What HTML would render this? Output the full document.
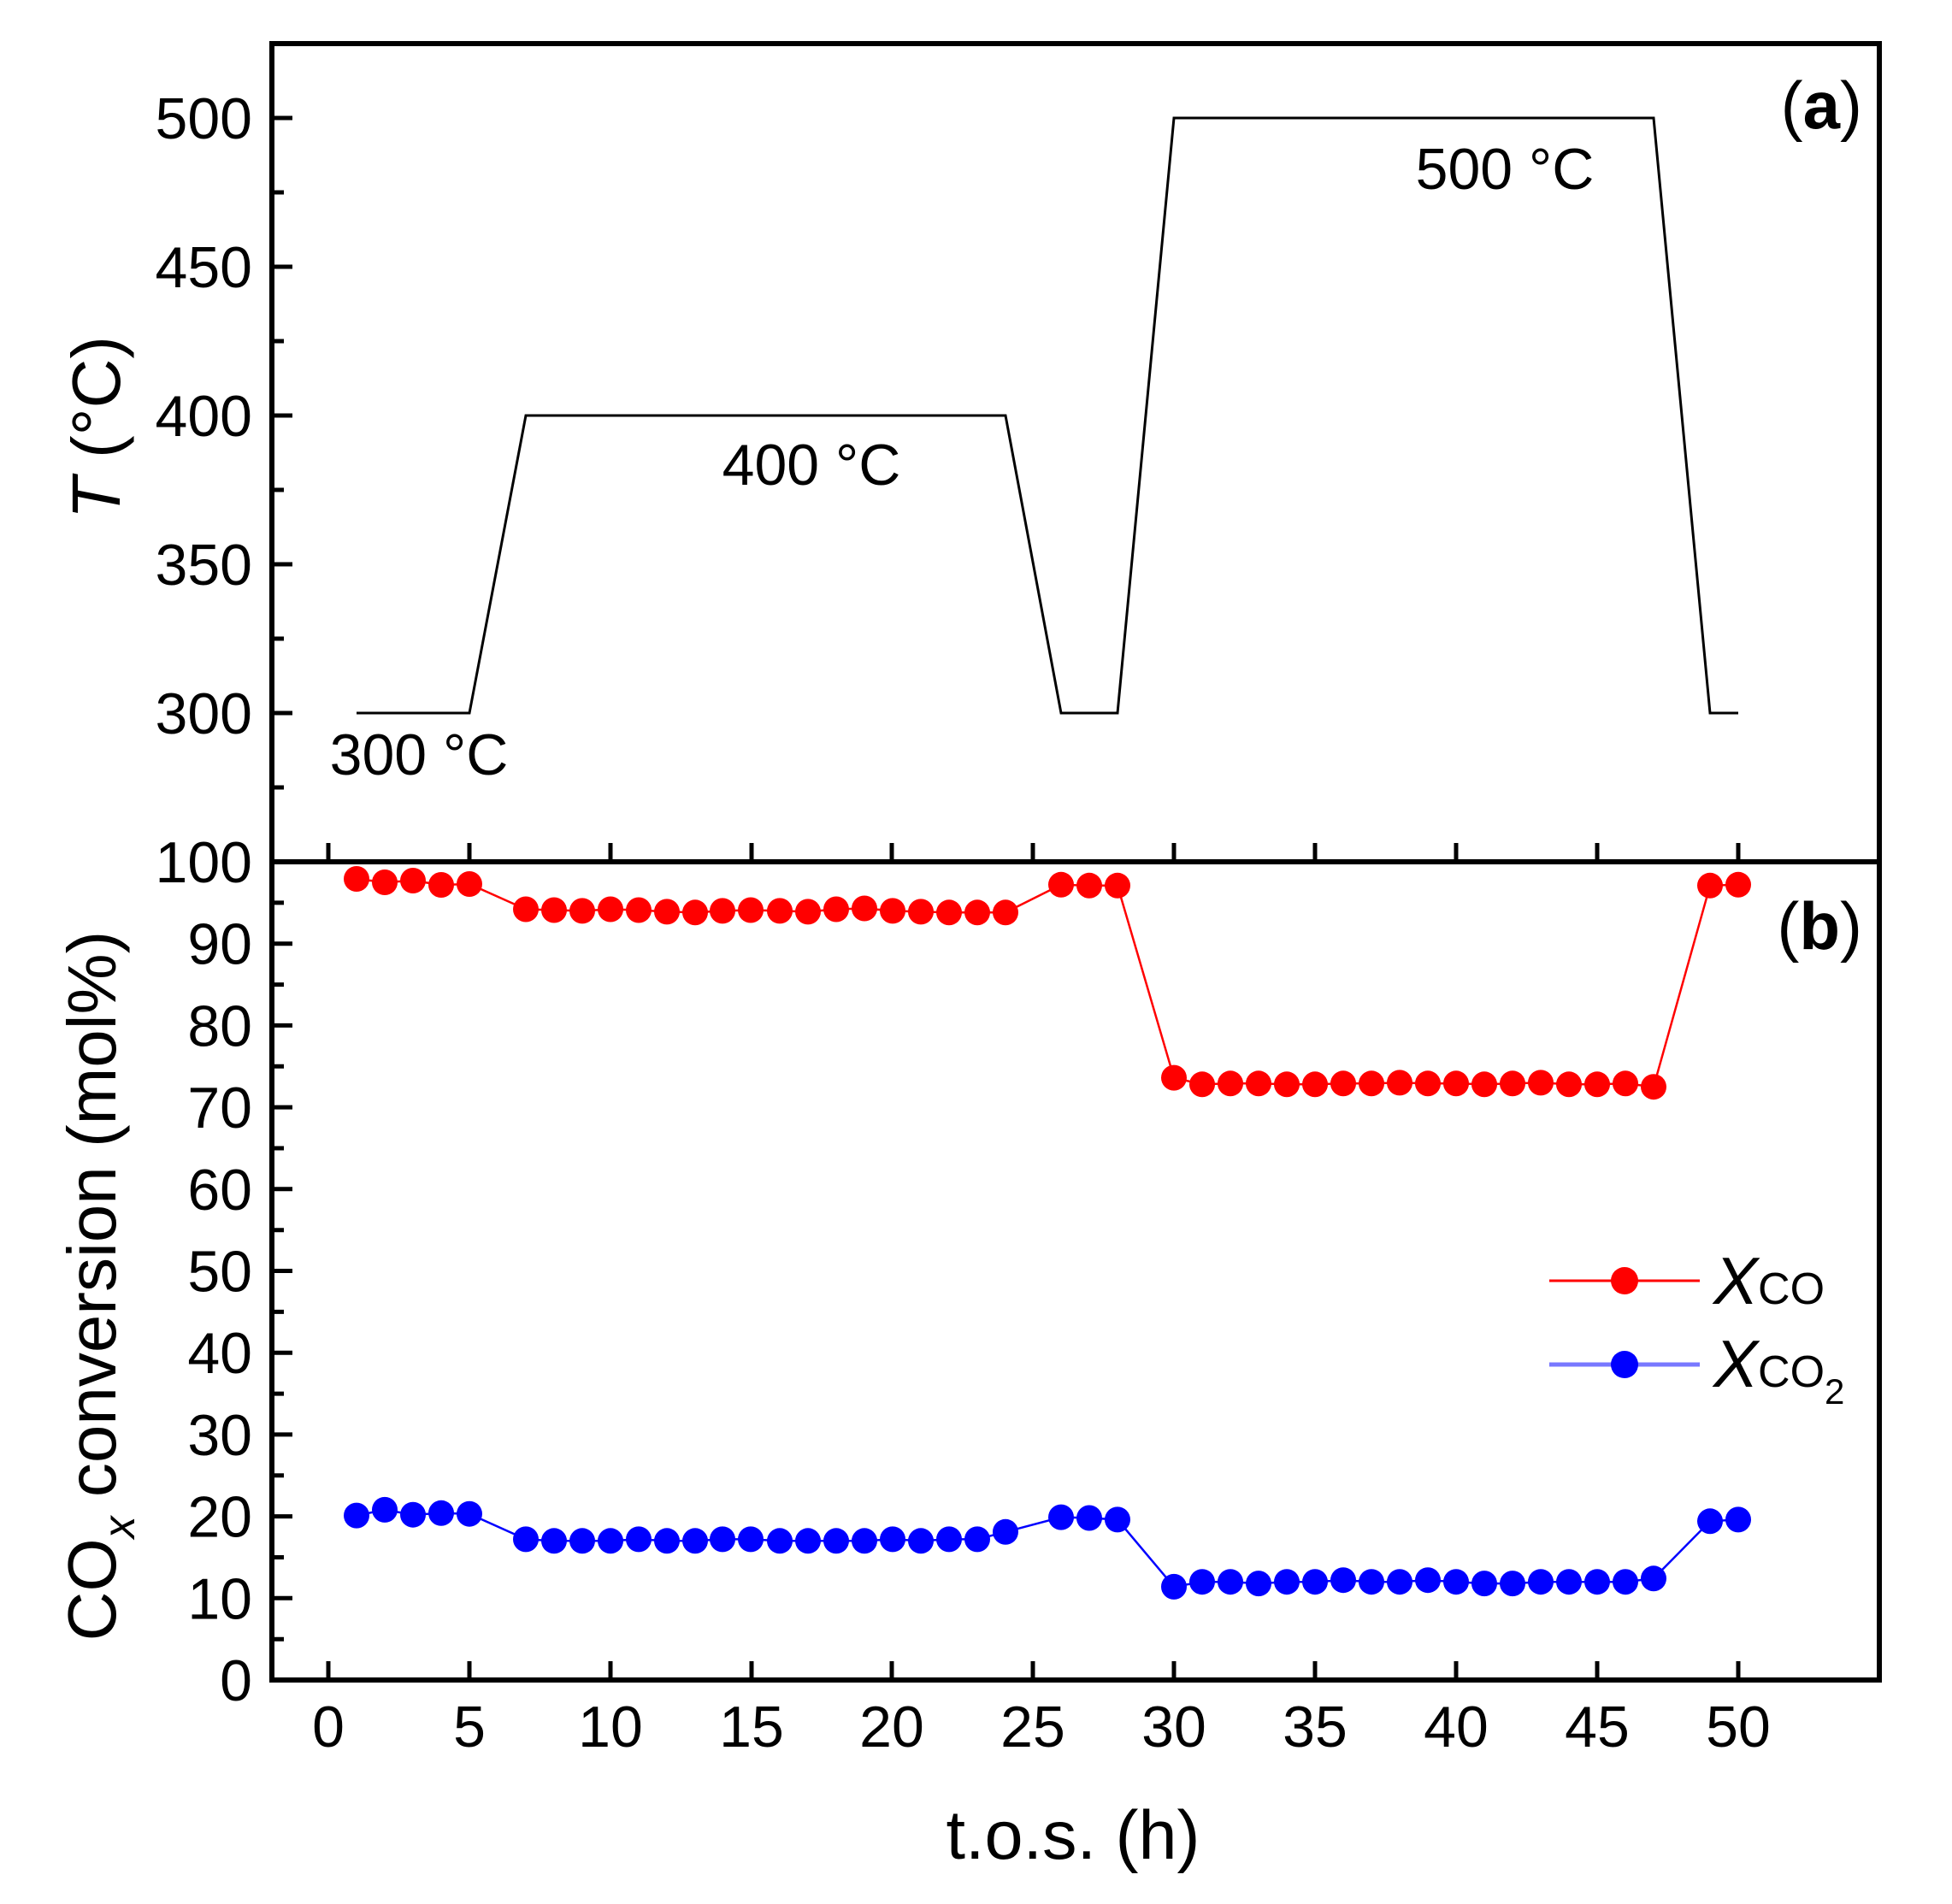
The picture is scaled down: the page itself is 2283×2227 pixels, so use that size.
<!DOCTYPE html>
<html><head><meta charset="utf-8"><style>html,body{margin:0;padding:0;background:#fff}svg{display:block}</style></head>
<body>
<svg width="2283" height="2227" viewBox="0 0 2283 2227" xmlns="http://www.w3.org/2000/svg" font-family="Liberation Sans, Arial, sans-serif">
<rect width="2283" height="2227" fill="#fff"/>
<!-- frame -->
<rect x="318" y="51" width="1880" height="1914" fill="none" stroke="#000" stroke-width="6"/>
<line x1="318" y1="1008" x2="2198" y2="1008" stroke="#000" stroke-width="6"/>
<g stroke="#000" stroke-width="5">
<!-- x ticks bottom and middle -->
<path d="M384 1965v-22M549 1965v-22M714 1965v-22M879 1965v-22M1043 1965v-22M1208 1965v-22M1373 1965v-22M1538 1965v-22M1703 1965v-22M1868 1965v-22M2033 1965v-22"/>
<path d="M384 1008v-22M549 1008v-22M714 1008v-22M879 1008v-22M1043 1008v-22M1208 1008v-22M1373 1008v-22M1538 1008v-22M1703 1008v-22M1868 1008v-22M2033 1008v-22"/>
<!-- bottom y ticks major -->
<path d="M318 1869.3h24M318 1773.6h24M318 1677.9h24M318 1582.2h24M318 1486.5h24M318 1390.8h24M318 1295.1h24M318 1199.4h24M318 1103.7h24"/>
<!-- bottom y minor -->
<path d="M318 1917.2h14M318 1821.5h14M318 1725.8h14M318 1630.1h14M318 1534.4h14M318 1438.7h14M318 1343h14M318 1247.3h14M318 1151.6h14M318 1055.9h14"/>
<!-- top y ticks major 300..500 -->
<path d="M318 834h24M318 660h24M318 486h24M318 312h24M318 138h24"/>
<path d="M318 921h14M318 747h14M318 573h14M318 399h14M318 225h14"/>
</g>
<!-- tick labels -->
<g font-size="68" fill="#000" text-anchor="end">
<text x="295" y="162">500</text>
<text x="295" y="336">450</text>
<text x="295" y="510">400</text>
<text x="295" y="684">350</text>
<text x="295" y="858">300</text>
<text x="295" y="1032">100</text>
<text x="295" y="1127.7">90</text>
<text x="295" y="1223.4">80</text>
<text x="295" y="1319.1">70</text>
<text x="295" y="1414.8">60</text>
<text x="295" y="1510.5">50</text>
<text x="295" y="1606.2">40</text>
<text x="295" y="1701.9">30</text>
<text x="295" y="1797.6">20</text>
<text x="295" y="1893.3">10</text>
<text x="295" y="1989">0</text>
</g>
<g font-size="68" fill="#000" text-anchor="middle">
<text x="384" y="2043">0</text><text x="549" y="2043">5</text><text x="714" y="2043">10</text><text x="879" y="2043">15</text><text x="1043" y="2043">20</text><text x="1208" y="2043">25</text><text x="1373" y="2043">30</text><text x="1538" y="2043">35</text><text x="1703" y="2043">40</text><text x="1868" y="2043">45</text><text x="2033" y="2043">50</text>
</g>
<!-- axis titles -->
<text x="1255" y="2174" font-size="81" text-anchor="middle">t.o.s. (h)</text>
<text transform="translate(140,500) rotate(-90)" font-size="80" text-anchor="middle"><tspan font-style="italic">T</tspan> (°C)</text>
<text transform="translate(135,1504) rotate(-90)" font-size="80" text-anchor="middle">CO<tspan font-size="52" dy="22" font-style="italic">x</tspan><tspan dy="-22"> conversion (mol%)</tspan></text>
<!-- panel labels -->
<text x="2178" y="150" font-size="78" text-anchor="end">(<tspan font-weight="bold">a</tspan>)</text>
<text x="2178" y="1110" font-size="78" text-anchor="end">(<tspan font-weight="bold">b</tspan>)</text>
<!-- temperature profile -->
<polyline points="417,834 549,834 615,486 1176,486 1241,834 1307,834 1373,138 1934,138 2000,834 2033,834" fill="none" stroke="#000" stroke-width="3"/>
<g font-size="68" text-anchor="middle">
<text x="490" y="906">300 °C</text>
<text x="949" y="567">400 °C</text>
<text x="1760" y="221">500 °C</text>
</g>
<!-- red series -->
<polyline fill="none" stroke="#f00" stroke-width="2.5" points="417,1028 450,1032 483,1030 516,1035 549,1034 615,1063.5 648,1064.5 681,1065.4 714,1063.5 747,1064.5 780,1066.4 813,1067.3 845,1065.4 878,1064.5 912,1065.4 945,1066.4 978,1063.5 1011,1062.5 1044,1065.4 1077,1066.4 1110,1067.3 1143,1067.3 1176,1067.3 1241,1034.8 1274,1035.8 1307,1035.8 1373,1260.6 1406,1268.3 1439,1267.3 1472,1267.3 1505,1268.3 1538,1268.3 1571,1267.3 1604,1267.3 1637,1266.4 1670,1267.3 1703,1267.3 1736,1268.3 1769,1267.3 1802,1266.4 1835,1268.3 1868,1268.3 1901,1267.3 1934,1271.2 2000,1035.8 2033,1034.8"/>
<g fill="#f00">
<circle cx="417" cy="1028" r="15"/><circle cx="450" cy="1032" r="15"/><circle cx="483" cy="1030" r="15"/><circle cx="516" cy="1035" r="15"/><circle cx="549" cy="1034" r="15"/>
<circle cx="615" cy="1063.5" r="15"/><circle cx="648" cy="1064.5" r="15"/><circle cx="681" cy="1065.4" r="15"/><circle cx="714" cy="1063.5" r="15"/><circle cx="747" cy="1064.5" r="15"/><circle cx="780" cy="1066.4" r="15"/><circle cx="813" cy="1067.3" r="15"/><circle cx="845" cy="1065.4" r="15"/><circle cx="878" cy="1064.5" r="15"/><circle cx="912" cy="1065.4" r="15"/><circle cx="945" cy="1066.4" r="15"/><circle cx="978" cy="1063.5" r="15"/><circle cx="1011" cy="1062.5" r="15"/><circle cx="1044" cy="1065.4" r="15"/><circle cx="1077" cy="1066.4" r="15"/><circle cx="1110" cy="1067.3" r="15"/><circle cx="1143" cy="1067.3" r="15"/><circle cx="1176" cy="1067.3" r="15"/>
<circle cx="1241" cy="1034.8" r="15"/><circle cx="1274" cy="1035.8" r="15"/><circle cx="1307" cy="1035.8" r="15"/>
<circle cx="1373" cy="1260.6" r="15"/><circle cx="1406" cy="1268.3" r="15"/><circle cx="1439" cy="1267.3" r="15"/><circle cx="1472" cy="1267.3" r="15"/><circle cx="1505" cy="1268.3" r="15"/><circle cx="1538" cy="1268.3" r="15"/><circle cx="1571" cy="1267.3" r="15"/><circle cx="1604" cy="1267.3" r="15"/><circle cx="1637" cy="1266.4" r="15"/><circle cx="1670" cy="1267.3" r="15"/><circle cx="1703" cy="1267.3" r="15"/><circle cx="1736" cy="1268.3" r="15"/><circle cx="1769" cy="1267.3" r="15"/><circle cx="1802" cy="1266.4" r="15"/><circle cx="1835" cy="1268.3" r="15"/><circle cx="1868" cy="1268.3" r="15"/><circle cx="1901" cy="1267.3" r="15"/><circle cx="1934" cy="1271.2" r="15"/>
<circle cx="2000" cy="1035.8" r="15"/><circle cx="2033" cy="1034.8" r="15"/>
</g>
<!-- blue series -->
<polyline fill="none" stroke="#00f" stroke-width="2.5" points="417,1772.6 450,1765.9 483,1771.7 516,1769.8 549,1770.7 615,1800.4 648,1802.3 681,1802.3 714,1802.3 747,1800.4 780,1802.3 813,1802.3 845,1800.4 878,1800.4 912,1802.3 945,1802.3 978,1802.3 1011,1802.3 1044,1800.4 1077,1802.3 1110,1800.4 1143,1800.4 1176,1791.8 1241,1774.6 1274,1775.5 1307,1777.4 1373,1855.9 1406,1850.2 1439,1850.2 1472,1852.1 1505,1850.2 1538,1850.2 1571,1848.2 1604,1850.2 1637,1850.2 1670,1848.2 1703,1850.2 1736,1852.1 1769,1852.1 1802,1850.2 1835,1850.2 1868,1850.2 1901,1850.2 1934,1846.3 2000,1779.3 2033,1777.4"/>
<g fill="#00f">
<circle cx="417" cy="1772.6" r="15"/><circle cx="450" cy="1765.9" r="15"/><circle cx="483" cy="1771.7" r="15"/><circle cx="516" cy="1769.8" r="15"/><circle cx="549" cy="1770.7" r="15"/>
<circle cx="615" cy="1800.4" r="15"/><circle cx="648" cy="1802.3" r="15"/><circle cx="681" cy="1802.3" r="15"/><circle cx="714" cy="1802.3" r="15"/><circle cx="747" cy="1800.4" r="15"/><circle cx="780" cy="1802.3" r="15"/><circle cx="813" cy="1802.3" r="15"/><circle cx="845" cy="1800.4" r="15"/><circle cx="878" cy="1800.4" r="15"/><circle cx="912" cy="1802.3" r="15"/><circle cx="945" cy="1802.3" r="15"/><circle cx="978" cy="1802.3" r="15"/><circle cx="1011" cy="1802.3" r="15"/><circle cx="1044" cy="1800.4" r="15"/><circle cx="1077" cy="1802.3" r="15"/><circle cx="1110" cy="1800.4" r="15"/><circle cx="1143" cy="1800.4" r="15"/><circle cx="1176" cy="1791.8" r="15"/>
<circle cx="1241" cy="1774.6" r="15"/><circle cx="1274" cy="1775.5" r="15"/><circle cx="1307" cy="1777.4" r="15"/>
<circle cx="1373" cy="1855.9" r="15"/><circle cx="1406" cy="1850.2" r="15"/><circle cx="1439" cy="1850.2" r="15"/><circle cx="1472" cy="1852.1" r="15"/><circle cx="1505" cy="1850.2" r="15"/><circle cx="1538" cy="1850.2" r="15"/><circle cx="1571" cy="1848.2" r="15"/><circle cx="1604" cy="1850.2" r="15"/><circle cx="1637" cy="1850.2" r="15"/><circle cx="1670" cy="1848.2" r="15"/><circle cx="1703" cy="1850.2" r="15"/><circle cx="1736" cy="1852.1" r="15"/><circle cx="1769" cy="1852.1" r="15"/><circle cx="1802" cy="1850.2" r="15"/><circle cx="1835" cy="1850.2" r="15"/><circle cx="1868" cy="1850.2" r="15"/><circle cx="1901" cy="1850.2" r="15"/><circle cx="1934" cy="1846.3" r="15"/>
<circle cx="2000" cy="1779.3" r="15"/><circle cx="2033" cy="1777.4" r="15"/>
</g>
<!-- legend -->
<line x1="1812" y1="1498" x2="1988" y2="1498" stroke="#f00" stroke-width="3"/>
<circle cx="1900" cy="1498" r="16" fill="#f00"/>
<line x1="1812" y1="1596" x2="1988" y2="1596" stroke="#7878ff" stroke-width="5"/>
<circle cx="1900" cy="1596" r="16" fill="#00f"/>
<text x="2004" y="1525" font-size="78"><tspan font-style="italic">X</tspan><tspan font-size="52">CO</tspan></text>
<text x="2004" y="1622" font-size="78"><tspan font-style="italic">X</tspan><tspan font-size="52">CO</tspan><tspan font-size="42" dy="20">2</tspan></text>
</svg>
</body></html>
